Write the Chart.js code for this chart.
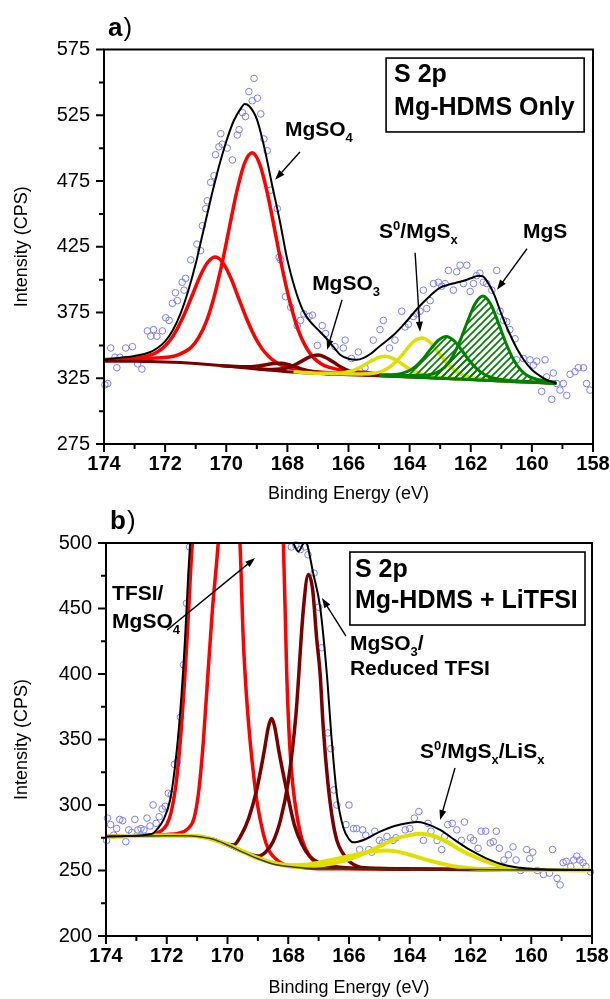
<!DOCTYPE html>
<html>
<head>
<meta charset="utf-8">
<title>S 2p XPS</title>
<script src="https://cdn.jsdelivr.net/npm/chart.js@4.4.1/dist/chart.umd.min.js"></script>
<style>
  html, body { margin: 0; padding: 0; background: #fff; }
  #wrap { position: relative; width: 610px; height: 999px; overflow: hidden; }
  canvas { position: absolute; left: 0; }
  #top { top: 0; }
  #bottom { top: 500px; }
</style>
</head>
<body>
<div id="wrap">
  <canvas id="top" width="610" height="510"></canvas>
  <canvas id="bottom" width="610" height="499"></canvas>
</div>
<script>
// ---- axis ticks ----
const energyTicks = [174, 172, 170, 168, 166, 164, 162, 160, 158];
const aIntensityTicks = [275, 325, 375, 425, 475, 525, 575];
const bIntensityTicks = [200, 250, 300, 350, 400, 450, 500];

// ---- a) Mg-HDMS only: measured counts [eV, CPS] ----
const aCounts = [[173.97,320],[173.88,321],[173.78,348],[173.64,341],[173.58,333],[173.48,341],[173.29,348],[173.07,349],[172.9,336],[172.76,332],[172.58,361],[172.47,357],[172.38,362],[172.27,357],[172.09,361],[171.98,371],[171.87,369],[171.76,382],[171.66,390],[171.6,384],[171.44,398],[171.38,392],[171.33,401],[171.16,415],[170.96,427],[170.84,422],[170.78,441],[170.67,454],[170.62,460],[170.51,474],[170.4,479],[170.35,495],[170.24,501],[170.18,511],[170.13,503],[169.97,500],[169.8,491],[169.64,510],[169.58,514],[169.47,527],[169.37,524],[169.26,543],[169.15,536],[169.09,553],[168.98,538],[168.87,526],[168.77,507],[168.66,498],[168.55,468],[168.33,454],[168.27,417],[168.22,415],[168.06,387],[167.89,379],[167.68,365],[167.57,369],[167.46,374],[167.29,372],[167.18,373],[167.02,350],[166.86,365],[166.75,359],[166.44,349],[166.17,348],[166.11,354],[165.9,340],[165.68,345],[165.46,333],[165.19,354],[164.97,362],[164.86,369],[164.66,348],[164.48,354],[164.26,376],[164.15,364],[164.04,366],[163.88,372],[163.77,374],[163.66,376],[163.55,392],[163.44,378],[163.33,384],[163.22,397],[163.06,398],[162.95,395],[162.84,397],[162.73,407],[162.57,392],[162.46,406],[162.35,411],[162.24,397],[162.13,411],[162.02,391],[161.91,397],[161.81,403],[161.7,405],[161.59,398],[161.48,397],[161.31,392],[161.15,407],[161.04,376],[160.93,369],[160.82,368],[160.72,362],[160.55,355],[160.5,339],[160.28,340],[160.06,339],[159.95,335],[159.84,338],[159.68,315],[159.57,339],[159.52,326],[159.35,309],[159.3,329],[159.19,321],[159.08,316],[158.97,321],[158.86,312],[158.75,328],[158.59,330],[158.48,333],[158.31,333],[158.21,321],[158.1,316]];

const aEnvelope = [[174,339],[173.5,340.5],[173,342],[172.5,344.8],[172.25,348],[172,353],[171.75,361.5],[171.5,374],[171.25,391],[171,412],[170.75,437],[170.5,462],[170.25,485],[170,505],[169.75,521],[169.5,531],[169.4,533.5],[169.25,532],[169,522],[168.75,500],[168.5,472],[168.25,445],[168,415],[167.75,393],[167.5,377],[167.25,368],[167,362],[166.75,356],[166.5,349],[166.25,342.5],[166,339.8],[165.75,339],[165.5,340.5],[165.25,344],[165,349],[164.75,353.5],[164.5,358.5],[164.25,364.5],[164,371],[163.75,378],[163.5,384],[163.25,389.5],[163,394],[162.75,396],[162.5,397.5],[162.25,399],[162,401],[161.75,403],[161.6,402.5],[161.5,400],[161.25,389.5],[161,374],[160.75,360],[160.5,348],[160.25,338.5],[160,331.5],[159.75,327],[159.5,323.5],[159.25,321.5],[159.2,321]];

const aBackground = [[174,338],[173.5,338],[173,338],[172.5,337.8],[172,337.4],[171.5,336.9],[171,336.2],[170.5,335.3],[170,334.3],[169.5,333.2],[169,332.1],[168.5,331],[168,330],[167.5,329.2],[167,328.6],[166.5,328.1],[166,327.7],[165.5,327.3],[165,326.9],[164.5,326.5],[164,326],[163.5,325.5],[163,325],[162.5,324.5],[162,324],[161.5,323.4],[161,322.9],[160.5,322.4],[160,321.9],[159.5,321.4],[159.2,321]];
const aMgSBackground = [[165,326.9],[164,326],[163,325],[162,324],[161,322.9],[160,321.9],[159.2,321]];

const aSO4Main = [[174,339.2],[173.15,339.7],[172.15,340.6],[171.65,342.2],[171.15,348.5],[170.9,356],[170.65,368.2],[170.4,386.8],[170.15,411],[169.9,439.4],[169.65,467.5],[169.4,488.6],[169.15,496.4],[168.9,487.5],[168.65,465.3],[168.4,436.1],[168.15,406.7],[167.9,381.5],[167.65,362],[167.4,349],[167.15,340.8],[166.9,336],[166.65,333.4],[166.15,330.9],[165.15,328.7]];
const aSO4Minor = [[174,339],[173.85,339.1],[173.35,339.6],[172.85,340.6],[172.6,341.7],[172.35,343.8],[172.1,347.5],[171.85,353.5],[171.6,362.8],[171.35,374.8],[171.1,388.9],[170.85,403],[170.6,413.4],[170.35,417.2],[170.1,412.5],[169.85,401.2],[169.6,386.2],[169.35,371.2],[169.1,358.2],[168.85,348.1],[168.6,341.3],[168.35,336.8],[168.1,334],[167.85,332.3],[167.35,330.5],[166.85,329.5],[166,328.2]];
const aSO3Main = [[169,332.4],[168.5,331.7],[168.25,332],[168,333],[167.75,335.2],[167.5,338.4],[167.25,341.4],[167,342.6],[166.75,340.8],[166.5,337.3],[166.25,333.5],[166,330.7],[165.75,329],[165.5,328],[165,327.2]];
const aSO3Minor = [[170.2,334.6],[169.7,333.9],[169.45,333.7],[169.2,333.8],[168.95,334.4],[168.7,335.3],[168.45,336.3],[168.2,336.4],[167.95,335.3],[167.7,333.4],[167.45,331.5],[167.2,330.1],[166.95,329.1],[166.7,328.6],[166.2,328]];
const aS0Minor = [[167.8,329.9],[166.8,328.8],[166.3,329],[166.05,329.8],[165.8,331.4],[165.55,334.1],[165.3,337.5],[165.05,340.5],[164.8,341.7],[164.55,340.1],[164.3,336.7],[164.05,332.8],[163.8,329.7],[163.55,327.5],[163.3,326.3],[162.8,325.2],[162.3,324.5]];
const aS0Main = [[166.6,328.5],[165.6,328.2],[165.1,329.1],[164.85,330.8],[164.6,334.4],[164.35,339.9],[164.1,346.9],[163.85,353.2],[163.6,355.6],[163.35,352.7],[163.1,345.9],[162.85,338.4],[162.6,332.4],[162.35,328.4],[162.1,326.2],[161.6,324.3],[161.1,323.5],[160.6,322.8]];
const aMgSMinor = [[165,327.5],[164.3,328.5],[164.05,330.4],[163.8,334.1],[163.55,340],[163.3,347.5],[163.05,354.1],[162.8,356.8],[162.55,353.6],[162.3,346.5],[162.05,338.5],[161.8,332.1],[161.55,327.9],[161.3,325.4],[160.8,323.5],[160.3,322.7],[159.8,322],[159.2,321]];
const aMgSMain = [[165,327.5],[164.1,327.1],[163.6,327.2],[163.1,329.5],[162.85,333.5],[162.6,341.2],[162.35,353.4],[162.1,368.5],[161.85,382],[161.6,387.5],[161.35,381.4],[161.1,367.3],[160.85,351.8],[160.6,339.1],[160.35,330.9],[160.1,326.4],[159.6,323.1],[159.2,322]];

// ---- b) Mg-HDMS + LiTFSI ----
const bCounts = [[173.98,273],[173.95,290],[173.85,285],[173.75,277],[173.65,282],[173.55,289],[173.45,288],[173.35,272],[173.25,281],[173.15,279],[173.05,289],[172.95,281],[172.85,282],[172.75,281],[172.65,290],[172.55,284],[172.45,300],[172.35,286],[172.25,291],[172.15,297],[172.05,299],[171.95,309],[171.85,308],[171.75,331],[171.65,333],[171.55,367],[171.45,407],[171.35,454],[171.25,497],[167.9,497],[167.75,498.5],[167.6,495],[167.45,497],[167.35,491],[167.15,477],[167.0,451],[166.9,420],[166.7,355],[166.6,343],[166.5,311.5],[166.4,300],[166.1,285],[166.0,300],[165.85,282],[165.75,282],[165.65,266],[165.55,281],[165.45,277],[165.35,266],[165.25,264],[165.15,280],[165.0,273],[164.9,271],[164.75,276],[164.55,273],[164.45,275],[164.15,281],[164.0,282],[163.85,290],[163.7,295],[163.55,273],[163.4,286],[163.3,280],[163.1,273],[162.95,266],[162.85,276],[162.75,285],[162.6,286],[162.45,281],[162.3,273],[162.2,287],[162.0,275],[161.9,273],[161.75,267],[161.65,280],[161.5,280],[161.35,271],[161.25,272],[161.15,280],[161.05,267],[160.9,258],[160.75,262],[160.6,268],[160.5,258],[160.35,250],[160.15,266],[160.05,259],[159.95,264],[159.8,250],[159.6,247],[159.4,248],[159.3,266],[159.15,244],[159.05,239],[158.95,256],[158.85,257],[158.7,253],[158.6,258],[158.5,261],[158.4,258],[158.3,256],[158.2,253],[158.05,249]];

const bEnvelope = [[174,276],[173.5,276.2],[173,276.5],[172.6,277.5],[172.44,278.4],[172.3,282],[172.11,288.6],[171.89,303.8],[171.73,329],[171.56,370],[171.4,426],[171.29,477],[171.23,500],[171.1,545],[170.8,650],[170.4,800],[169.9,850],[169.4,800],[168.9,700],[168.4,580],[168.1,520],[167.83,500],[167.67,493.5],[167.5,500],[167.45,502],[167.39,500],[167.18,477],[166.95,451],[166.73,400],[166.57,350],[166.4,308],[166.19,283],[166,274],[165.86,271.5],[165.5,273.5],[165,279.5],[164.5,284],[164,286.5],[163.75,287],[163.5,286],[163,281],[162.5,273],[162,265.5],[161.5,259.5],[161,255],[160.5,252.5],[160,251.3],[159.5,250.8],[159,250.5],[158,250.3]];
const bBackground = [[174,275.8],[173,276.3],[172,276.6],[171.5,276.5],[171,276],[170.5,274],[170,269.5],[169.5,264],[169,259],[168.5,255],[168,253],[167.5,252],[167,251.6],[166,251.4],[164,251],[162,250.7],[160,250.4],[158,250.2]];
const bTFSIMain = [[174,276],[172.5,277],[172,277.5],[171.6,278.5],[171.3,282],[171.1,290],[170.95,310],[170.8,347],[170.65,398],[170.5,448],[170.3,502],[170.1,580],[169.8,700],[169.5,790],[169.23,820],[168.95,790],[168.7,700],[168.45,600],[168.16,500],[168.05,400],[167.95,345],[167.85,315],[167.7,290],[167.55,274],[167.35,263],[167.1,256],[166.7,253],[166.2,252],[165.5,251.5],[164,251]];
const bTFSIMinor = [[174,276.2],[173,276.6],[172.5,277.3],[172.2,280],[172,285],[171.85,295],[171.7,315],[171.55,350],[171.4,400],[171.3,440],[171.2,485],[171.1,520],[170.9,600],[170.42,680],[169.95,600],[169.75,545],[169.59,500],[169.48,426],[169.38,385],[169.26,350],[169.15,325],[169.04,304],[168.82,278],[168.65,266],[168.49,260.6],[168.25,256],[168.05,254],[167.6,252.5],[167.17,251.6],[166,251.3],[164,251]];
const bReducedMinor = [[170.5,274.2],[170.2,271.5],[170,270],[169.8,269.5],[169.55,277],[169.3,290],[169.04,311.5],[168.8,340],[168.65,360],[168.55,366],[168.45,360],[168.3,340],[168.05,311],[167.8,285],[167.55,270],[167.3,261],[167,256],[166.5,253],[166,252],[165,251.5],[163,251],[161,250.7]];
const bReducedMain = [[170.2,271.5],[169.5,264.5],[169,261],[168.75,264],[168.5,272],[168.25,289],[168,318],[167.75,368],[167.5,450],[167.34,476],[167.2,465],[167.06,426],[166.95,400],[166.85,360],[166.7,318],[166.55,290],[166.4,273],[166.2,263],[166,257],[165.7,253],[165.4,252],[165,251.5],[163,251],[161,250.7]];
const bSulfideMinor = [[174,276],[172,276.8],[171,276.3],[170,270],[169,259.6],[168.5,256],[168,254],[167.5,254.3],[167,256],[166.5,258.5],[166,261],[165.5,263.5],[165,265],[164.75,265.2],[164.5,264.8],[164,262],[163.5,258.5],[163,255.5],[162.5,253],[162,251.7],[161.5,251],[161,250.6],[160,250.4],[158,250.2]];
const bSulfideMain = [[174,275.9],[172,276.7],[171,276.1],[170,269.7],[169,259.2],[168,253.3],[167.5,252.8],[167,253.8],[166.5,255.5],[166,258.5],[165.5,263],[165,268.5],[164.5,274],[164,277],[163.66,278],[163.25,276.5],[162.75,271.5],[162.5,268],[162,261.8],[161.5,257],[161,253.5],[160.5,251.5],[160,250.8],[159,250.4],[158,250.2]];

// ---- drawing ----
const FONT = "'Liberation Sans', Arial, Helvetica, sans-serif";
Chart.defaults.font.family = FONT;
Chart.defaults.color = '#000';

const RED = '#ff0000', MAROON = '#7a0000', YELLOW = '#e0e000', GREEN = '#008000';

function hatch(color) {
  const c = document.createElement('canvas');
  c.width = 7; c.height = 7;
  const g = c.getContext('2d');
  g.strokeStyle = color;
  g.lineWidth = 1.6;
  g.beginPath();
  g.moveTo(-1, 8); g.lineTo(8, -1);
  g.moveTo(-1, 1); g.lineTo(1, -1);
  g.moveTo(6, 8); g.lineTo(8, 6);
  g.stroke();
  return g.createPattern(c, 'repeat');
}

function curve(data, color, width, order, extra) {
  return Object.assign({
    data, borderColor: color, borderWidth: width, pointRadius: 0,
    cubicInterpolationMode: 'monotone', fill: false, order, clip: 0
  }, extra || {});
}

function dots(data) {
  return {
    data, showLine: false, pointRadius: 3.3, pointBorderWidth: 1,
    pointBorderColor: '#7b7bff', pointBackgroundColor: 'rgba(0,0,0,0)',
    order: 20, clip: 4
  };
}

function drawRuns(ctx, x, y, runs, size, weight) {
  let cx = x;
  runs.forEach(([t, kind]) => {
    const s = kind ? Math.round(size * 0.62) : size;
    const dy = kind === 'sub' ? size * 0.3 : kind === 'sup' ? -size * 0.36 : 0;
    ctx.font = `${weight} ${s}px ${FONT}`;
    ctx.fillText(t, cx, y + dy);
    cx += ctx.measureText(t).width;
  });
}

function arrow(ctx, x1, y1, x2, y2) {
  const ang = Math.atan2(y2 - y1, x2 - x1), len = 10, half = 3.5;
  ctx.beginPath();
  ctx.moveTo(x1, y1);
  ctx.lineTo(x2 - Math.cos(ang) * len * 0.8, y2 - Math.sin(ang) * len * 0.8);
  ctx.stroke();
  ctx.beginPath();
  ctx.moveTo(x2, y2);
  ctx.lineTo(x2 - Math.cos(ang) * len - Math.sin(ang) * half, y2 - Math.sin(ang) * len + Math.cos(ang) * half);
  ctx.lineTo(x2 - Math.cos(ang) * len + Math.sin(ang) * half, y2 - Math.sin(ang) * len - Math.cos(ang) * half);
  ctx.closePath();
  ctx.fill();
}

// frame, outward major/minor ticks, axis titles, panel letter and labels
function decor(panel) {
  return {
    id: 'decor',
    afterDraw(chart) {
      const { ctx, chartArea: a, scales: { x, y } } = chart;
      const px = (e) => x.getPixelForValue(e), py = (i) => y.getPixelForValue(i);
      ctx.save();
      ctx.strokeStyle = '#000';
      ctx.fillStyle = '#000';
      ctx.lineWidth = 2;
      ctx.strokeRect(a.left, a.top, a.right - a.left, a.bottom - a.top);

      ctx.beginPath();
      const xt = energyTicks, yt = panel.yTicks;
      xt.forEach((v, k) => {
        ctx.moveTo(px(v), a.bottom); ctx.lineTo(px(v), a.bottom + 8);
        if (k < xt.length - 1) {
          const m = px((v + xt[k + 1]) / 2);
          ctx.moveTo(m, a.bottom); ctx.lineTo(m, a.bottom + 5);
        }
      });
      yt.forEach((v, k) => {
        ctx.moveTo(a.left, py(v)); ctx.lineTo(a.left - 8, py(v));
        if (k < yt.length - 1) {
          const m = py((v + yt[k + 1]) / 2);
          ctx.moveTo(a.left, m); ctx.lineTo(a.left - 5, m);
        }
      });
      ctx.stroke();

      // axis titles
      ctx.font = `18px ${FONT}`;
      ctx.textAlign = 'center';
      ctx.textBaseline = 'alphabetic';
      ctx.fillText('Binding Energy (eV)', (a.left + a.right) / 2, panel.xTitleY);
      ctx.save();
      ctx.translate(27, (a.top + a.bottom) / 2);
      ctx.rotate(-Math.PI / 2);
      ctx.fillText('Intensity (CPS)', 0, 0);
      ctx.restore();

      // panel letter
      ctx.textAlign = 'left';
      ctx.font = `bold 26px ${FONT}`;
      ctx.fillText(panel.letter, a.left + 4, a.top - 14);
      const w = ctx.measureText(panel.letter).width;
      ctx.font = `26px ${FONT}`;
      ctx.fillText(')', a.left + 4 + w + 1, a.top - 14);

      // sample box
      const b = panel.box;
      ctx.lineWidth = 1.6;
      ctx.strokeRect(px(b.from[0]), py(b.from[1]), px(b.to[0]) - px(b.from[0]), py(b.to[1]) - py(b.from[1]));
      b.lines.forEach((ln) => {
        ctx.font = `bold ${b.size}px ${FONT}`;
        ctx.fillText(ln.text, px(b.from[0]) + b.inset, py(ln.at));
      });

      // peak labels
      ctx.lineWidth = 1.4;
      panel.notes.forEach((n) => {
        if (n.arrow) arrow(ctx, px(n.arrow[0]), py(n.arrow[1]), px(n.arrow[2]), py(n.arrow[3]));
        if (n.runs) drawRuns(ctx, px(n.at[0]), py(n.at[1]), n.runs, 21, 'bold');
      });
      ctx.restore();
    }
  };
}

function makeChart(id, datasets, yRange, panel, layout) {
  return new Chart(document.getElementById(id), {
    type: 'line',
    data: { datasets },
    options: {
      responsive: false,
      devicePixelRatio: 1,
      animation: false,
      events: [],
      layout: { padding: layout.padding },
      plugins: { legend: { display: false }, tooltip: { enabled: false } },
      scales: {
        x: {
          type: 'linear', reverse: true, min: 158, max: 174,
          afterBuildTicks: (s) => { s.ticks = energyTicks.map((v) => ({ value: v })); },
          afterFit: (s) => { s.height = 56; s.paddingLeft = 0; s.paddingRight = 0; },
          grid: { display: false, drawTicks: false },
          border: { display: false },
          ticks: { padding: 8, font: { size: 20, weight: 'bold' }, color: '#000', maxRotation: 0 }
        },
        y: {
          type: 'linear', min: yRange[0], max: yRange[1],
          afterBuildTicks: (s) => { s.ticks = panel.yTicks.map((v) => ({ value: v })); },
          afterFit: (s) => { s.width = layout.left; s.paddingTop = 0; s.paddingBottom = 0; },
          grid: { display: false, drawTicks: false },
          border: { display: false },
          ticks: { padding: 14, font: { size: 20 }, color: '#000' }
        }
      }
    },
    plugins: [decor(panel)]
  });
}

const greenHatch = hatch(GREEN);

// panel a: dataset 8 is the MgS background used as the fill floor
makeChart('top', [
  curve(aEnvelope, '#000', 2, 0),
  curve(aMgSMain, GREEN, 3, 1, { fill: 8, backgroundColor: greenHatch }),
  curve(aMgSMinor, GREEN, 3, 1, { fill: 8, backgroundColor: greenHatch }),
  curve(aS0Main, YELLOW, 3.5, 3),
  curve(aS0Minor, YELLOW, 3.5, 3),
  curve(aSO3Main, MAROON, 3.5, 4),
  curve(aSO3Minor, MAROON, 3.5, 4),
  curve(aBackground, MAROON, 3, 5),
  curve(aMgSBackground, GREEN, 3, 2),
  curve(aSO4Main, RED, 3.5, 6),
  curve(aSO4Minor, RED, 3.5, 6),
  dots(aCounts)
], [275, 575], {
  yTicks: aIntensityTicks,
  letter: 'a',
  xTitleY: 499,
  box: { from: [164.77, 568.5], to: [158.29, 512.3], size: 25, inset: 8,
         lines: [{ text: 'S 2p', at: 550.3 }, { text: 'Mg-HDMS Only', at: 525.2 }] },
  notes: [
    { at: [168.08, 509.3], runs: [['MgSO'], ['4', 'sub']], arrow: [167.59, 497.1, 168.40, 475.9] },
    { at: [167.19, 392.3], runs: [['MgSO'], ['3', 'sub']], arrow: [166.21, 384.7, 166.70, 346.7] },
    { at: [165.0, 431.8], runs: [['S'], ['0', 'sup'], ['/MgS'], ['x', 'sub']], arrow: [163.82, 420.4, 163.66, 360.4] },
    { at: [160.29, 431.8], runs: [['MgS']], arrow: [160.16, 423.5, 161.14, 392.3] }
  ]
}, { left: 104, padding: { top: 49.5, right: 17, bottom: 10, left: 0 } });

makeChart('bottom', [
  curve(bEnvelope, '#000', 2, 0),
  curve(bBackground, '#3a3a00', 1.5, 1),
  curve(bSulfideMain, YELLOW, 4, 2),
  curve(bSulfideMinor, YELLOW, 4, 2),
  curve(bReducedMain, MAROON, 3.5, 3),
  curve(bReducedMinor, MAROON, 3.5, 3),
  curve(bTFSIMain, RED, 3.5, 4),
  curve(bTFSIMinor, RED, 3.5, 4),
  dots(bCounts)
], [200, 500], {
  yTicks: bIntensityTicks,
  letter: 'b',
  xTitleY: 493,
  box: { from: [165.97, 493.1], to: [158.23, 437.4], size: 25, inset: 5,
         lines: [{ text: 'S 2p', at: 474 }, { text: 'Mg-HDMS + LiTFSI', at: 450.4 }] },
  notes: [
    { at: [173.8, 456.5], runs: [['TFSI/']] },
    { at: [173.8, 435.1], runs: [['MgSO'], ['4', 'sub']], arrow: [171.99, 433.6, 169.09, 488.5] },
    { at: [165.97, 418.3], runs: [['MgSO'], ['3', 'sub'], ['/']], arrow: [166.1, 429, 166.89, 458] },
    { at: [165.97, 399.2], runs: [['Reduced TFSI']] },
    { at: [163.66, 335.9], runs: [['S'], ['0', 'sup'], ['/MgS'], ['x', 'sub'], ['/LiS'], ['x', 'sub']], arrow: [162.51, 328.2, 163.0, 288.5] }
  ]
}, { left: 106, padding: { top: 43, right: 18, bottom: 7, left: 0 } });
</script>
</body>
</html>
